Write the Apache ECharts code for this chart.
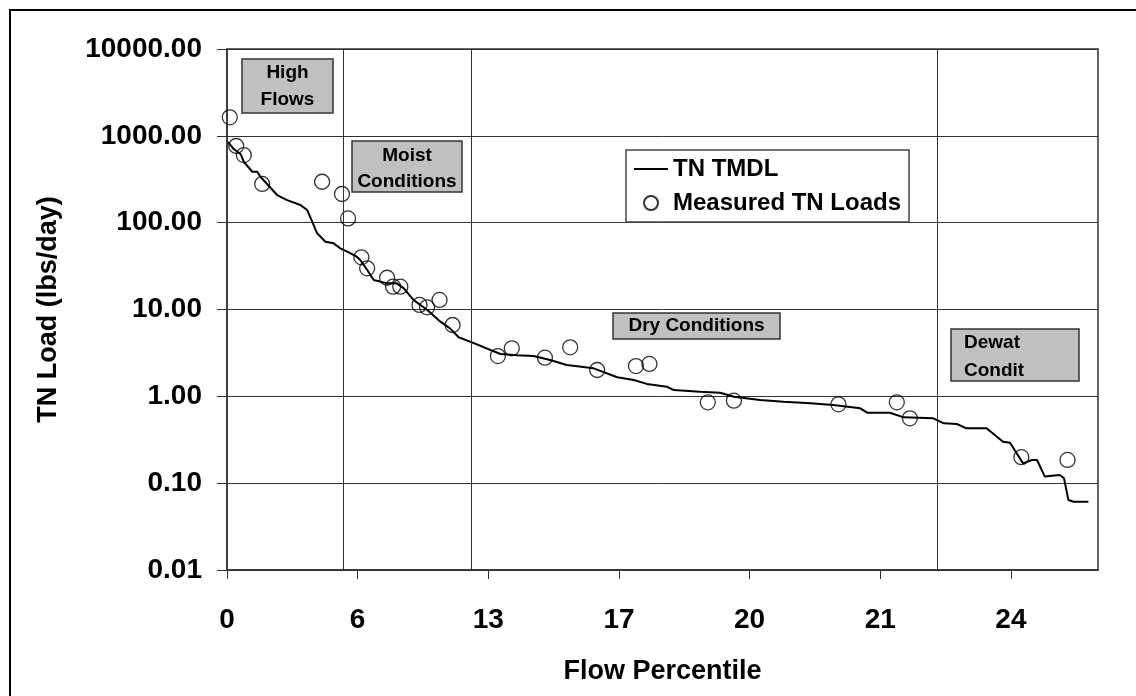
<!DOCTYPE html>
<html>
<head>
<meta charset="utf-8">
<script src="https://cdn.jsdelivr.net/npm/echarts@6/dist/echarts.min.js"></script>
<style>
  html, body { margin: 0; padding: 0; background: #fff; }
  #chart { width: 1136px; height: 696px; }
</style>
</head>
<body>
<div id="chart"></div>
<script>
// flow percentile position along the axis (0-100) and TN load in lbs/day
const tmdlX = [0.1, 0.8, 1.55, 1.93, 2.9, 3.47, 3.84, 4.6, 5.76, 6.9, 8.43, 9.2, 9.78, 10.35, 11.3, 12.25, 13.0, 13.8, 14.9,
  15.3, 16.1, 16.85, 18.4, 19.5, 20.3, 21.4, 23.0, 24.5, 25.6, 26.6, 27.9, 29.5, 31.4, 33.3, 35.2, 37.1, 39.0, 42.1,
  44.8, 46.7, 48.2, 50.5, 51.3, 54.3, 56.6, 58.2, 61.2, 63.9, 67.0, 69.6, 72.7, 73.5, 76.1, 77.7, 81.1, 82.3, 83.8,
  84.9, 87.2, 89.1, 89.9, 91.4, 92.4, 93.0, 93.9, 95.6, 96.1, 96.6, 97.2, 98.9]
const tmdlY = [850, 700, 618, 503, 386, 386, 338, 279, 208, 182, 160, 140, 102.6, 75.4, 60.4, 57.8, 50.7, 46.3, 40.6,
  37.2, 28.5, 21.9, 20.0, 20.0, 17.5, 12.9, 9.87, 7.24, 6.07, 4.79, 4.26, 3.67, 3.07, 2.97, 2.91, 2.62, 2.30, 2.10,
  1.66, 1.54, 1.39, 1.29, 1.18, 1.13, 1.10, 0.99, 0.908, 0.867, 0.831, 0.795, 0.728, 0.648, 0.648, 0.573, 0.558, 0.489, 0.480,
  0.428, 0.428, 0.300, 0.292, 0.169, 0.185, 0.185, 0.119, 0.124, 0.114, 0.064, 0.061, 0.061]

const measuredX = [0.32, 1.06, 1.93, 4.04, 10.92, 13.2, 13.9, 15.43, 16.09, 18.38, 19.07, 19.9, 22.1, 22.97, 24.4, 25.9,
  31.1, 32.7, 36.5, 39.4, 42.5, 46.95, 48.5, 55.2, 58.2, 70.2, 76.9, 78.4, 91.2, 96.5]
const measuredY = [1634, 764, 601, 279, 296, 214, 112, 39.9, 29.8, 23.2, 18.3, 18.3, 11.3, 10.6, 12.9, 6.63,
  2.91, 3.57, 2.79, 3.67, 2.01, 2.23, 2.36, 0.853, 0.891, 0.809, 0.853, 0.558, 0.199, 0.185]

const xTickLabels = ['0', '6', '13', '17', '20', '21', '24']
const xTickStep = 15
const regionBounds = [13.4, 28.0, 81.6]

const font = 'Liberation Sans, Arial, sans-serif'
const xTickValues = xTickLabels.map(function (_, i) { return i * xTickStep })

function boxText(x, y, w, h, lines, lineY, opts) {
  opts = opts || {}
  const children = [{
    type: 'rect',
    shape: { x: x, y: y, width: w, height: h },
    style: { fill: '#c0c0c0', stroke: '#333', lineWidth: 1.5 }
  }]
  lines.forEach(function (t, i) {
    const st = {
      text: t,
      x: opts.left != null ? opts.left : x + w / 2,
      y: lineY[i],
      align: opts.left != null ? 'left' : 'center',
      verticalAlign: 'middle',
      font: 'bold 19px ' + font,
      fill: '#000'
    }
    if (opts.clip) {
      st.width = opts.clip
      st.overflow = 'truncate'
      st.ellipsis = ''
    }
    children.push({ type: 'text', style: st })
  })
  return { type: 'group', children: children }
}

const chart = echarts.init(document.getElementById('chart'))

chart.setOption({
  animation: false,
  backgroundColor: '#fff',
  textStyle: { fontFamily: font },
  grid: {
    left: 227, right: 38, top: 49, bottom: 126,
    show: true, borderColor: '#333', borderWidth: 1.5, backgroundColor: 'transparent'
  },
  legend: {
    left: 626, top: 150,
    orient: 'vertical',
    padding: [7, 8, 7, 7],
    itemGap: 10,
    itemWidth: 34, itemHeight: 14,
    backgroundColor: '#fff',
    borderColor: '#444', borderWidth: 1.5,
    textStyle: { fontFamily: font, fontWeight: 'bold', fontSize: 24, color: '#000' },
    data: [
      { name: 'TN TMDL', itemStyle: { opacity: 0 } },
      { name: 'Measured TN Loads' }
    ]
  },
  xAxis: {
    type: 'value',
    min: 0, max: 100, interval: xTickStep,
    name: 'Flow Percentile',
    nameLocation: 'middle',
    nameGap: 88,
    nameTextStyle: { fontFamily: font, fontWeight: 'bold', fontSize: 27, color: '#000' },
    axisLine: { lineStyle: { color: '#333', width: 1.5 } },
    axisTick: { show: true, inside: false, length: 9, lineStyle: { color: '#333' }, customValues: xTickValues },
    axisLabel: {
      margin: 36,
      fontFamily: font, fontWeight: 'bold', fontSize: 28, color: '#000',
      customValues: xTickValues,
      formatter: function (v) {
        const i = Math.round(v / xTickStep)
        return (Math.abs(v - i * xTickStep) < 1e-6 && i < xTickLabels.length) ? xTickLabels[i] : ''
      }
    },
    splitLine: { show: false }
  },
  yAxis: {
    type: 'log',
    logBase: 10,
    min: 0.01, max: 10000,
    name: 'TN Load (lbs/day)',
    nameLocation: 'middle',
    nameGap: 165,
    nameRotate: 90,
    nameTextStyle: { fontFamily: font, fontWeight: 'bold', fontSize: 27, color: '#000' },
    axisLine: { show: true, lineStyle: { color: '#333', width: 1.5 } },
    axisTick: { show: true, length: 10, lineStyle: { color: '#333' } },
    minorTick: { show: false },
    axisLabel: {
      margin: 25,
      fontFamily: font, fontWeight: 'bold', fontSize: 28, color: '#000',
      formatter: function (v) { return Number(v).toFixed(2) }
    },
    splitLine: { show: true, lineStyle: { color: '#333', width: 1 } }
  },
  series: [
    {
      name: 'TN TMDL',
      type: 'line',
      symbol: 'none',
      data: tmdlX.map(function (x, i) { return [x, tmdlY[i]] }),
      lineStyle: { color: '#000', width: 2 },
      itemStyle: { color: '#000' },
      z: 3,
      markLine: {
        silent: true,
        symbol: 'none',
        label: { show: false },
        lineStyle: { color: '#333', width: 1, type: 'solid' },
        data: regionBounds.map(function (b) { return { xAxis: b } })
      }
    },
    {
      name: 'Measured TN Loads',
      type: 'scatter',
      symbol: 'circle',
      symbolSize: 15,
      data: measuredX.map(function (x, i) { return [x, measuredY[i]] }),
      itemStyle: { color: 'rgba(255,255,255,0)', borderColor: '#000', borderWidth: 1.3 },
      z: 4
    }
  ],
  graphic: [
    {
      type: 'rect',
      shape: { x: 10, y: 10, width: 1300, height: 900 },
      style: { fill: 'none', stroke: '#000', lineWidth: 2 },
      silent: true, z: -10
    },
    boxText(242, 59, 91, 54, ['High', 'Flows'], [73, 100]),
    boxText(352, 141, 110, 51, ['Moist', 'Conditions'], [156, 182]),
    boxText(613, 313, 167, 26, ['Dry Conditions'], [326]),
    boxText(951, 329, 128, 52, ['Dewatering', 'Conditions'], [343, 371], { left: 964, clip: 62 })
  ]
})
</script>
</body>
</html>
